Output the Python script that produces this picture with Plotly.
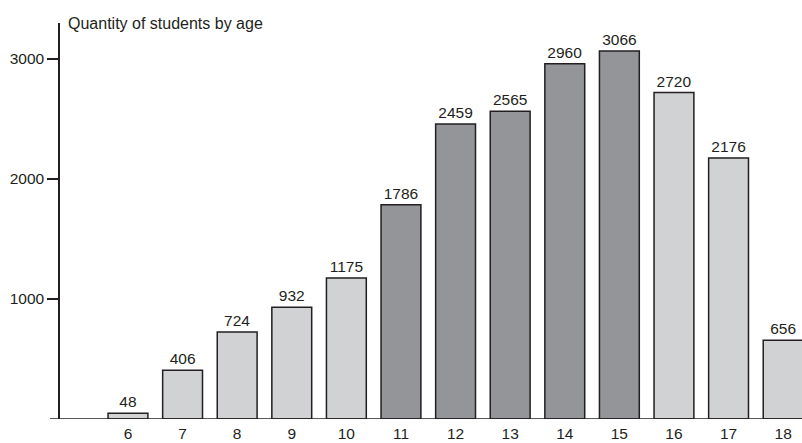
import plotly.graph_objects as go

ages = [6, 7, 8, 9, 10, 11, 12, 13, 14, 15, 16, 17, 18]
students = [48, 406, 724, 932, 1175, 1786, 2459, 2565, 2960, 3066, 2720, 2176, 656]
highlight = [False, False, False, False, False, True, True, True, True, True, False, False, False]
title_text = "Quantity of students by age"

LIGHT = "#d1d2d4"
DARK = "#939598"
EDGE = "#231f20"
FONT = "Liberation Sans, Arial, sans-serif"
NUM = 15.5

fig = go.Figure(go.Bar(
    x=ages, y=students,
    width=0.73,
    marker=dict(color=[DARK if h else LIGHT for h in highlight],
                line=dict(color=EDGE, width=1.5)),
    text=[str(v) for v in students],
    textposition="outside",
    textfont=dict(size=NUM, color=EDGE, family=FONT),
    cliponaxis=False,
))

fig.update_layout(
    width=802, height=443,
    margin=dict(l=60, r=0, t=23, b=24),
    plot_bgcolor="white", paper_bgcolor="white",
    showlegend=False,
    font=dict(family=FONT, size=NUM, color=EDGE),
    xaxis=dict(range=[4.755, 18.345], tickmode="array", tickvals=ages,
               ticktext=[str(a) for a in ages], showgrid=False, zeroline=False,
               showline=False, ticks="", ticklabelstandoff=3,
               tickfont=dict(size=NUM, family=FONT, color=EDGE)),
    yaxis=dict(range=[0, 3300], tickvals=[1000, 2000, 3000], showgrid=False,
               zeroline=False, showline=True, linecolor=EDGE, linewidth=1.5,
               ticks="outside", ticklen=11, tickcolor=EDGE, tickwidth=1.5,
               tickfont=dict(size=NUM, family=FONT, color=EDGE)),
    shapes=[dict(type="line", xref="paper", yref="y", x0=-10/742, x1=1, y0=0, y1=0,
                 line=dict(color=EDGE, width=1.5))],
    annotations=[dict(text=title_text, xref="paper", yref="paper", x=6/742, y=1.0,
                      xanchor="left", yanchor="middle", showarrow=False,
                      font=dict(size=16, family=FONT, color=EDGE))],
)

fig.write_html("out.html")
